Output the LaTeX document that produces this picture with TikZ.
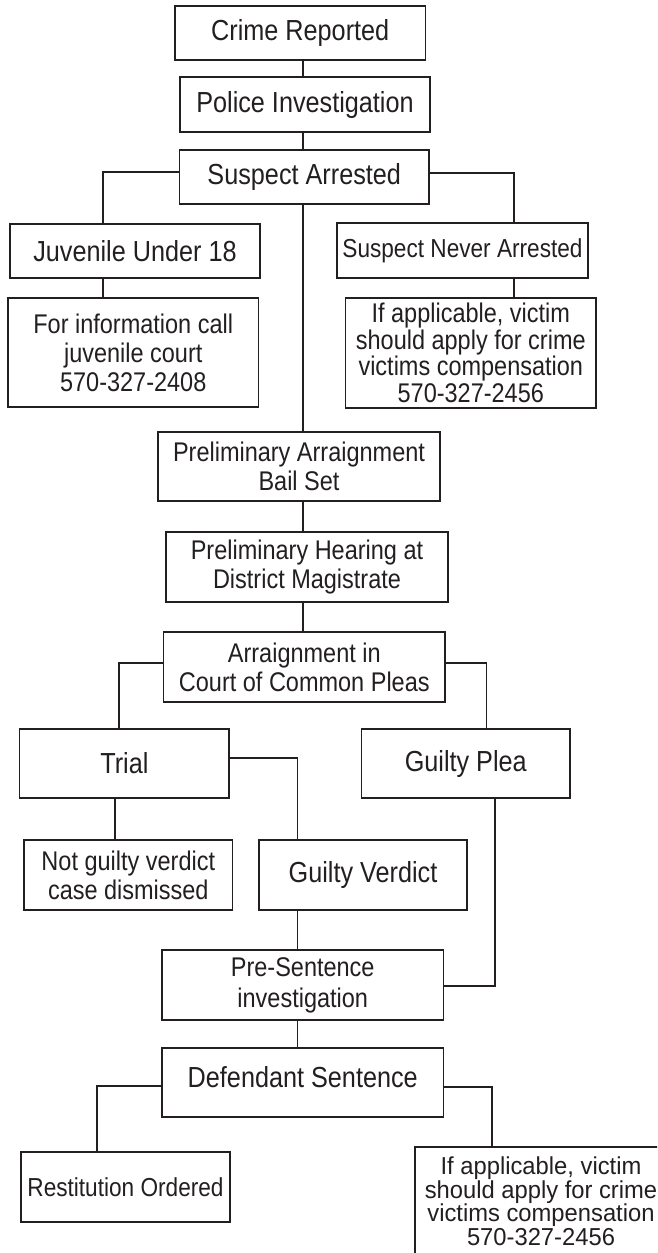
\documentclass[tikz,border=0pt]{standalone}
\usepackage{fontspec}
\setmainfont{Liberation Sans}[FakeStretch=0.87]
\definecolor{ink}{HTML}{231F20}
\newcommand\fbig{\fontsize{29}{31}\selectfont}
\newcommand\fsmall{\fontsize{27}{29}\selectfont}
\newcommand\fmid{\fontsize{26}{27}\selectfont}
\newcommand\ftight{\addfontfeatures{FakeStretch=0.97}\fontsize{24.5}{23.5}\selectfont\lineskiplimit=-100pt\lineskip=0pt}
\tikzset{
  box/.style={draw=ink, line width=1.5pt, rectangle, inner sep=0pt, align=center, text=ink},
  link/.style={draw=ink, line width=1.5pt}
}
\begin{document}
\begin{tikzpicture}[x=1pt,y=-1pt]
\clip (0,0) rectangle (657,1253);
\fill[white] (0,0) rectangle (657,1253);
% boxes
\node[box, font=\fbig, minimum width=250.5pt, minimum height=54pt] (cr) at (300.25,33) {Crime Reported};
\node[box, font=\fbig, minimum width=250pt, minimum height=55pt] (pi) at (305,104.5) {Police Investigation};
\node[box, font=\fbig, minimum width=249.5pt, minimum height=54pt] (sa) at (304.25,177) {Suspect Arrested};
\node[box, font=\fbig, minimum width=250pt, minimum height=54pt] (ju) at (135,251) {Juvenile Under 18};
\node[box, font=\fsmall, minimum width=250.5pt, minimum height=109pt] (fi) at (133.25,352.5) {For information call\\juvenile court\\570-327-2408};
\node[box, font=\fmid, minimum width=251pt, minimum height=55pt] (sn) at (462.5,250.5) {Suspect Never Arrested};
\node[box, font=\fontsize{27}{26.5}\selectfont, minimum width=250.4pt, minimum height=110pt] (va) at (470.8,353) {If applicable, victim\\should apply for crime\\victims compensation\\570-327-2456};
\node[box, font=\fsmall, minimum width=282pt, minimum height=69pt] (pa) at (299,466.5) {Preliminary Arraignment\\Bail Set};
\node[box, font=\fsmall, minimum width=282pt, minimum height=70pt] (ph) at (307,567) {Preliminary Hearing at\\District Magistrate};
\node[box, font=\fsmall, minimum width=281.4pt, minimum height=70pt] (ar) at (304.3,667) {Arraignment in\\Court of Common Pleas};
\node[box, font=\fbig, minimum width=209.3pt, minimum height=69pt] (tr) at (124.35,763.5) {Trial};
\node[box, font=\fbig, minimum width=208.5pt, minimum height=69pt] (gp) at (465.75,763.5) {Guilty Plea};
\node[box, font=\fsmall, minimum width=208.6pt, minimum height=70pt] (ng) at (128.3,875) {Not guilty verdict\\case dismissed};
\node[box, font=\fbig, minimum width=208pt, minimum height=70pt] (gv) at (363,875) {Guilty Verdict};
\node[box, font=\fontsize{27}{31}\selectfont, minimum width=281.5pt, minimum height=70pt] (ps) at (302.75,985) {Pre-Sentence\\investigation};
\node[box, minimum width=281.5pt, minimum height=69pt] (ds) at (302.75,1082.5) {};
\node[font=\fbig, text=ink] (dst) at ([yshift=5pt]ds.center) {Defendant Sentence};
\node[box, font=\fmid, minimum width=209pt, minimum height=70pt] (ro) at (125.5,1187) {Restitution Ordered};
\node[box, minimum width=252pt, minimum height=110pt] (vb) at (541,1202) {};
\node[font=\ftight, text=ink, align=center, inner sep=0pt, anchor=north] (vbt) at (vb.north |- 0,1157) {If applicable, victim\\should apply for crime\\victims compensation\\570-327-2456};
% connectors
\draw[link] (cr.south -| 303,0) -- (pi.north -| 303,0);
\draw[link] (pi.south -| 303,0) -- (sa.north -| 303,0);
\draw[link] (sa.south -| 303,0) -- (pa.north -| 303,0);
\draw[link] (sa.west |- 0,172) -| (ju.north -| 103,0);
\draw[link] (ju.south -| 103,0) -- (fi.north -| 103,0);
\draw[link] (sa.east |- 0,173) -| (sn.north -| 514,0);
\draw[link] (sn.south -| 514,0) -- (va.north -| 514,0);
\draw[link] (pa.south -| 303,0) -- (ph.north -| 303,0);
\draw[link] (ph.south -| 303,0) -- (ar.north -| 303,0);
\draw[link] (ar.west |- 0,663) -| (tr.north -| 119,0);
\draw[link] (ar.east |- 0,663) -| (gp.north -| 486.6,0);
\draw[link] (tr.south -| 115,0) -- (ng.north -| 115,0);
\draw[link] (tr.east |- 0,758) -| (gv.north -| 297.5,0);
\draw[link] (gv.south -| 297.5,0) -- (ps.north -| 297.5,0);
\draw[link] (gp.south -| 495,0) |- (ps.east |- 0,986);
\draw[link] (ps.south -| 297.5,0) -- (ds.north -| 297.5,0);
\draw[link] (ds.west |- 0,1086) -| (ro.north -| 97,0);
\draw[link] (ds.east |- 0,1087) -| (vb.north -| 492,0);
\end{tikzpicture}
\end{document}
